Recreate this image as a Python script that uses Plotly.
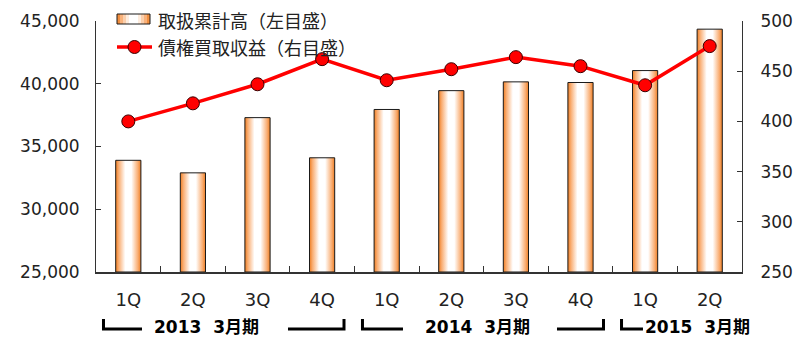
import plotly.graph_objects as go
from plotly.colors import sample_colorscale

# Quarterly data
quarters = ["1Q", "2Q", "3Q", "4Q", "1Q", "2Q", "3Q", "4Q", "1Q", "2Q"]
handled_total = [33900, 32900, 37300, 34100, 37950, 39450, 40150, 40100, 41050, 44350]  # left axis
purchase_income = [400, 418, 437, 462, 441, 452, 464, 455, 436, 475]  # right axis
fiscal_groups = ["2013  3月期", "2014  3月期", "2015  3月期"]

bar_name = "取扱累計高（左目盛）"
line_name = "債権買取収益（右目盛）"

LEFT_MIN, LEFT_MAX = 25000, 45000
RIGHT_MIN, RIGHT_MAX = 250, 500
BAR_HALF = 0.195

num_font = "DejaVu Sans, Noto Sans CJK JP, sans-serif"
jp_font = "Noto Sans CJK JP, sans-serif"

W, H = 800, 337
M_L, M_R, M_T, M_B = 96, 58, 21, 65
PLOT_W = W - M_L - M_R
PLOT_H = H - M_T - M_B


def px_x(px):
    """Pixel column -> paper x."""
    return (px - M_L) / PLOT_W


def px_y(py):
    """Pixel row -> paper y."""
    return (H - M_B - py) / PLOT_H


bar_scale = [[0, "#ee7d22"], [0.12, "#f9ad72"], [0.38, "#ffffff"],
             [0.62, "#ffffff"], [0.88, "#f9ad72"], [1, "#ee7d22"]]
bar_gradient = dict(type="horizontal", colorscale=bar_scale)

fig = go.Figure()

# Cylinder-style bars: each bar is a filled rectangle with a horizontal gradient
for i, v in enumerate(handled_total):
    fig.add_trace(go.Scatter(
        x=[i - BAR_HALF, i + BAR_HALF, i + BAR_HALF, i - BAR_HALF, i - BAR_HALF],
        y=[LEFT_MIN, LEFT_MIN, v, v, LEFT_MIN],
        mode="lines",
        fill="toself",
        fillgradient=bar_gradient,
        line=dict(color="#1a1a1a", width=1),
        name=bar_name,
        showlegend=False,
        hoverinfo="skip",
        yaxis="y",
    ))

fig.add_trace(go.Scatter(
    x=list(range(len(quarters))),
    y=purchase_income,
    mode="lines+markers",
    line=dict(color="#ff0000", width=3.5),
    marker=dict(size=13, color="#ff0000", line=dict(color="#3a0000", width=1)),
    name=line_name,
    showlegend=False,
    yaxis="y2",
))

shapes = []
annotations = []

# Fiscal-year brackets under the quarter labels
y_top, y_bot = px_y(319), px_y(329)
brackets = [
    ("left", -0.384, 0.212),
    ("right", 2.472, 3.339),
    ("left", 3.625, 4.252),
    ("right", 6.636, 7.356),
    ("left", 7.635, 7.967),
]
for kind, a, b in brackets:
    if kind == "left":
        path = f"M {a},{y_top} L {a},{y_bot} L {b},{y_bot}"
    else:
        path = f"M {a},{y_bot} L {b},{y_bot} L {b},{y_top}"
    shapes.append(dict(type="path", path=path, xref="x", yref="paper",
                       line=dict(color="#000000", width=3)))

group_label_x = [0.36, 4.555, 7.975]
for t, gx in zip(fiscal_groups, group_label_x):
    annotations.append(dict(
        text=t, x=gx, y=px_y(327), xref="x", yref="paper", xanchor="left",
        yanchor="middle", showarrow=False,
        font=dict(family=num_font, size=17, color="#000000", weight="bold")))

# Legend (top-left, inside the plot area)
key_x0, key_x1 = 117, 150
bar_key_y0, bar_key_y1 = 14, 24
n_strips = 11
strip_cols = sample_colorscale(bar_scale, [(k + 0.5) / n_strips for k in range(n_strips)])
strip_w = (key_x1 - key_x0) / n_strips
for k, c in enumerate(strip_cols):
    shapes.append(dict(type="rect", xref="paper", yref="paper",
                       x0=px_x(key_x0 + k * strip_w), x1=px_x(key_x0 + (k + 1) * strip_w),
                       y0=px_y(bar_key_y1), y1=px_y(bar_key_y0),
                       fillcolor=c, line=dict(width=0)))
shapes.append(dict(type="rect", xref="paper", yref="paper",
                   x0=px_x(key_x0), x1=px_x(key_x1),
                   y0=px_y(bar_key_y1), y1=px_y(bar_key_y0),
                   line=dict(color="#1a1a1a", width=1)))

line_key_y = 47
shapes.append(dict(type="line", xref="paper", yref="paper",
                   x0=px_x(key_x0), x1=px_x(key_x1 + 2),
                   y0=px_y(line_key_y), y1=px_y(line_key_y),
                   line=dict(color="#ff0000", width=3.5)))
shapes.append(dict(type="circle", xref="paper", yref="paper",
                   xsizemode="pixel", ysizemode="pixel",
                   xanchor=px_x((key_x0 + key_x1 + 2) / 2), yanchor=px_y(line_key_y),
                   x0=-6.5, x1=6.5, y0=-6.5, y1=6.5,
                   fillcolor="#ff0000", line=dict(color="#3a0000", width=1)))

for label, ly in [(bar_name, 19.5), (line_name, 47)]:
    annotations.append(dict(
        text=label, x=px_x(156), y=px_y(ly), xref="paper", yref="paper",
        xanchor="left", yanchor="middle", showarrow=False,
        font=dict(family=jp_font, size=18, color="#222222")))

fig.update_layout(
    width=W, height=H,
    margin=dict(l=M_L, r=M_R, t=M_T, b=M_B, autoexpand=False),
    paper_bgcolor="white", plot_bgcolor="white",
    showlegend=False,
    xaxis=dict(
        range=[-0.5, len(quarters) - 0.5],
        tickmode="array", tickvals=list(range(len(quarters))), ticktext=quarters,
        ticks="", ticklabelstandoff=10,
        tickfont=dict(family=num_font, size=18, color="#222222"),
        showgrid=False, zeroline=False,
        showline=True, linecolor="#333333", linewidth=2,
        minor=dict(tickmode="array",
                   tickvals=[i + 0.5 for i in range(len(quarters) - 1)],
                   ticks="inside", ticklen=6, tickcolor="#333333", showgrid=False),
    ),
    yaxis=dict(
        range=[LEFT_MIN, LEFT_MAX], dtick=5000, tickformat=",",
        ticks="inside", ticklen=5, tickcolor="#333333",
        ticklabelstandoff=12,
        tickfont=dict(family=num_font, size=17, color="#222222"),
        showgrid=False, zeroline=False,
        showline=True, linecolor="#333333", linewidth=1,
    ),
    yaxis2=dict(
        range=[RIGHT_MIN, RIGHT_MAX], dtick=50, overlaying="y", side="right",
        ticks="inside", ticklen=5, tickcolor="#333333",
        ticklabelstandoff=14,
        tickfont=dict(family=num_font, size=17, color="#222222"),
        showgrid=False, zeroline=False,
        showline=True, linecolor="#333333", linewidth=1,
    ),
    shapes=shapes,
    annotations=annotations,
)

fig.write_html("out.html")
